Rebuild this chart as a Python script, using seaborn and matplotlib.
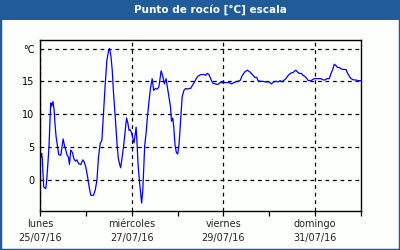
import matplotlib
matplotlib.use("Agg")
import matplotlib.pyplot as plt
import matplotlib.dates as mdates
from matplotlib.patches import Rectangle
import seaborn as sns
import pandas as pd

# hours since lunes 25/07/16 00:00
hours = [0.4, 0.9, 1.2, 1.9, 3.0, 3.5, 4.0, 4.7, 5.3, 5.6, 6.1, 6.8, 7.4, 7.9, 8.4,
         9.1, 9.8, 10.9, 11.6, 12.1, 12.8, 13.5, 14.2, 14.9, 15.4, 16.1, 17.0, 17.7,
         18.6, 19.3, 20.3, 21.4, 22.4, 23.1, 24.0, 24.9, 25.7, 26.6, 28.0, 28.9, 29.8,
         30.6, 31.5, 32.4, 33.3, 34.1, 35.0, 35.9, 36.4, 37.1, 37.8, 38.5, 39.4, 40.3,
         41.0, 41.7, 42.2, 42.9, 43.8, 44.6, 45.3, 46.0, 46.6, 47.3, 48.0, 48.7, 49.2,
         49.7, 50.3, 50.8, 51.3, 52.0, 52.7, 53.2, 53.8, 54.3, 54.8, 55.5, 56.2, 57.1,
         57.8, 58.7, 59.5, 60.4, 61.3, 62.2, 62.7, 63.4, 64.3, 65.1, 66.0, 66.5, 67.4,
         68.3, 68.8, 69.5, 70.0, 70.7, 71.4, 72.1, 72.8, 73.5, 74.4, 75.3, 76.2, 77.0,
         77.9, 78.8, 79.8, 80.9, 81.9, 82.8, 84.0,
         85.8, 86.6, 87.5, 88.4, 89.3, 90.5, 91.9, 93.1, 94.2, 95.4, 97.1, 98.9, 100.3,
         101.5, 103.3, 104.7, 105.9, 107.1, 108.5, 109.9, 111.1, 112.4, 113.4, 114.1,
         115.2, 116.4, 118.1, 119.9, 121.1, 122.2, 123.4, 124.6, 125.7, 126.6, 127.4,
         128.7, 129.9, 131.3, 132.5, 133.9, 134.8, 135.7, 136.9, 137.6, 138.6, 139.7,
         140.4, 141.8, 143.5, 145.3, 147.0, 148.3, 149.1, 150.2, 151.4, 152.3, 153.2,
         154.0, 154.9, 155.8, 156.7, 157.5, 158.9, 160.2, 161.0, 161.9, 162.8, 164.2,
         165.4, 166.3, 168.0]
dewpoint = [3.4, 4.0, 3.2, -1.1, -1.4, -0.1, 1.9, 5.0, 9.5, 11.7, 11.2, 11.9, 10.6, 8.3, 6.6,
            5.2, 3.8, 3.7, 5.2, 6.2, 5.2, 4.5, 3.7, 3.4, 2.3, 4.5, 4.1, 3.2,
            2.8, 3.0, 2.4, 2.3, 3.0, 2.7, 1.9, 0.4, -1.1, -2.4, -2.4, -1.6, -0.1,
            3.4, 5.5, 6.0, 10.6, 14.4, 18.2, 19.7, 20.0, 18.9, 16.7, 13.1, 9.5, 5.5,
            3.2, 2.3, 1.8, 3.2, 5.2, 7.5, 9.4, 8.6, 7.5, 7.6, 7.0, 6.2, 5.6,
            6.6, 8.0, 5.5, 2.4, -0.1, -2.1, -3.6, -1.6, 1.9, 5.2, 7.0, 9.5, 12.1,
            13.9, 15.4, 13.6, 13.9, 13.8, 14.1, 15.1, 16.6, 15.7, 14.6, 15.4, 14.4, 12.8,
            11.1, 8.9, 9.4, 8.0, 5.2, 4.1, 3.9, 5.5, 8.6, 12.6, 13.6, 13.9, 13.8,
            13.9, 13.9, 14.4, 14.9, 15.5, 15.8, 16.0,
            16.05, 15.9, 16.2, 16.05, 15.4, 14.7, 14.6, 14.5, 14.8, 14.8, 14.8, 14.8, 14.6,
            14.8, 15.0, 15.1, 15.9, 16.4, 16.7, 16.4, 16.05, 15.6, 15.6, 15.1,
            15.0, 15.0, 14.9, 14.9, 14.6, 14.9, 15.0, 14.9, 15.1, 14.9, 15.1,
            15.4, 15.9, 16.25, 16.35, 16.7, 16.4, 16.2, 16.2, 15.9, 15.75, 15.4,
            15.1, 15.1, 15.4, 15.4, 15.4, 15.2, 15.2, 15.4, 15.4, 16.2, 16.8,
            17.6, 17.4, 17.1, 17.1, 16.9, 16.8, 16.8, 16.2, 15.75, 15.4, 15.2,
            15.2, 15.1, 15.1]

ytick_vals = [0, 5, 10, 15, 20]
ytick_labels = ["0", "5", "10", "15", "°C"]
xtick_dates = ["2016-07-25", "2016-07-27", "2016-07-29", "2016-07-31"]
xtick_labels = ["lunes\n25/07/16", "miércoles\n27/07/16", "viernes\n29/07/16", "domingo\n31/07/16"]
title = "Punto de rocío [°C] escala"

start = pd.Timestamp("2016-07-25")
df = pd.DataFrame({"time": start + pd.to_timedelta(hours, unit="h"), "value": dewpoint})

sns.set_style("white")
plt.rcParams["font.family"] = ["DejaVu Sans"]

blue = "#1f5c99"
fig = plt.figure(figsize=(4, 2.5), dpi=100, facecolor="#fcfffc")
# border and title bar
fig.patches.append(Rectangle((0, 0), 1, 1, transform=fig.transFigure, fill=False,
                             edgecolor=blue, linewidth=2.5, zorder=0))
fig.patches.append(Rectangle((0, 1 - 20 / 250), 1, 20 / 250, transform=fig.transFigure,
                             facecolor=blue, edgecolor="none", zorder=1))
fig.text(210 / 400, 1 - 10 / 250, title, color="white", fontsize=7.5, fontweight="bold",
         ha="center", va="center")

ax = fig.add_axes([40 / 400, 1 - 211 / 250, 321 / 400, 171 / 250])
ax.set_facecolor("#fcfffc")
sns.lineplot(data=df, x="time", y="value", ax=ax, color="#0000ff", linewidth=0.9)

ax.set_xlim(pd.Timestamp("2016-07-25"), pd.Timestamp("2016-08-01"))
ax.set_ylim(-4.8, 21.3)
ax.set_yticks(ytick_vals)
ax.set_yticklabels(ytick_labels)
ax.set_xticks([pd.Timestamp(d) for d in xtick_dates])
ax.set_xticklabels(xtick_labels)
ax.xaxis.set_minor_locator(mdates.DayLocator())
ax.set_xlabel("")
ax.set_ylabel("")

ax.grid(True, which="major", color="black", linestyle=(0, (3, 3)), linewidth=0.9)
for s in ax.spines.values():
    s.set_color("black")
    s.set_linewidth(1.0)
    s.set_visible(True)
ax.tick_params(axis="y", length=0, pad=4, labelsize=7, colors="black")
ax.tick_params(axis="x", which="both", length=3.5, width=0.9, direction="out",
               bottom=True, color="black", labelsize=7, pad=2)
for lbl in ax.get_xticklabels():
    lbl.set_linespacing(1.6)
    lbl.set_ha("center")

fig.savefig("out.png", dpi=100, facecolor=fig.get_facecolor())
